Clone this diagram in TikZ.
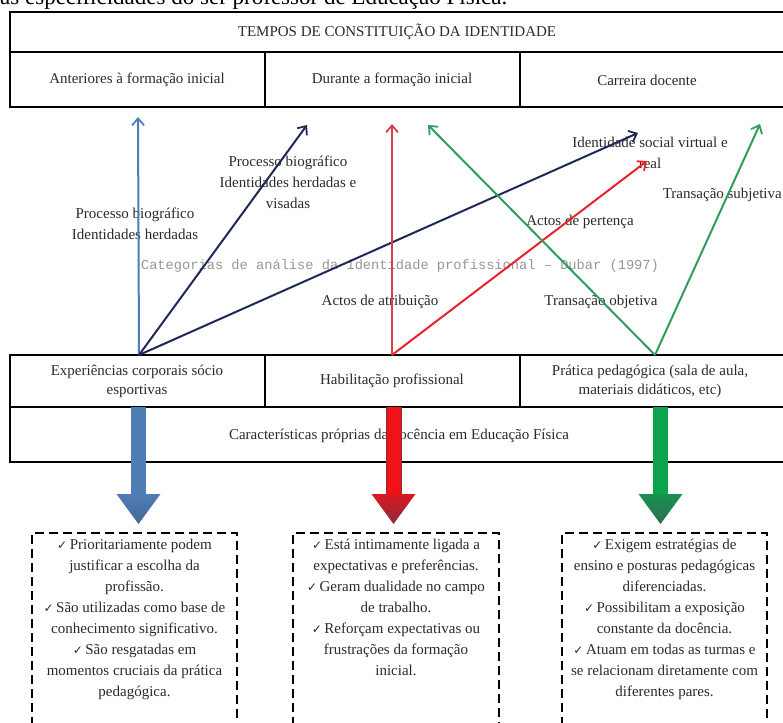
\documentclass[tikz,border=0pt]{standalone}
\usepackage{fontspec}
\setmainfont{Liberation Serif}
\newfontfamily\faintmono{Liberation Mono}
\newfontfamily\symfam{DejaVu Sans}
\usetikzlibrary{arrows.meta}

\definecolor{steel}{HTML}{4F7DB5}
\definecolor{steeldk}{HTML}{46689A}
\definecolor{navy}{HTML}{1E2957}
\definecolor{rosered}{HTML}{D44150}
\definecolor{brightred}{HTML}{E8232D}
\definecolor{bigred}{HTML}{F01218}
\definecolor{bigreddk}{HTML}{8A2E3C}
\definecolor{grn}{HTML}{2E9E5B}
\definecolor{biggrn}{HTML}{0AA34E}
\definecolor{biggrndk}{HTML}{2F6E52}
\definecolor{txt}{HTML}{2A2A2A}
\definecolor{faint}{HTML}{969696}

\newcommand{\ck}{{\symfam\fontsize{12}{12}\selectfont ✓}\,}

\begin{document}
\begin{tikzpicture}[x=1pt,y=-1pt,
  lbl/.style={font=\fontsize{15}{21}\selectfont, text=txt, align=center, inner sep=0pt},
  celltext/.style={font=\fontsize{15}{19}\selectfont, text=txt, align=center, inner sep=0pt},
  gridline/.style={line width=2pt, black},
  thinarrow/.style={line width=2pt, -{Straight Barb[length=7pt,width=12pt,line width=1.8pt]}},
  dbox/.style={draw=black, line width=2.6pt, dash pattern=on 9pt off 5pt},
  boxtext/.style={font=\fontsize{15}{21}\selectfont, text=txt, align=center, inner sep=0pt, anchor=north},
]
\useasboundingbox (0,0) rectangle (783,722);

% clipped caption line at the very top
\node[anchor=base west, font=\fontsize{23}{23}\selectfont, inner sep=0pt, text=black] (caption) at (0,5) {as especificidades do ser professor de Educação Física.};

% ---------- top table ----------
\draw[gridline] (790,12) -- (10,12) -- (10,107) -- (790,107);
\draw[gridline] (10,52) -- (790,52);
\draw[gridline] (265,52) -- (265,107);
\draw[gridline] (520,52) -- (520,107);
\node[celltext] (tempos) at (397,32) {TEMPOS DE CONSTITUIÇÃO DA IDENTIDADE};
\node[celltext] (ant) at (137,80) {Anteriores à formação inicial};
\node[celltext] (dur) at (392,80) {Durante a formação inicial};
\node[celltext] (car) at (647,80) {Carreira docente};

% ---------- bottom table ----------
\draw[gridline] (790,355) -- (10,355) -- (10,462) -- (790,462);
\draw[gridline] (10,407) -- (790,407);
\draw[gridline] (265,355) -- (265,407);
\draw[gridline] (520,355) -- (520,407);
\node[celltext] (exp) at (137,381) {Experiências  corporais sócio\\esportivas};
\node[celltext] (hab) at (392,381) {Habilitação profissional};
\node[celltext] (pra) at (650,381) {Prática pedagógica (sala de aula,\\materiais didáticos, etc)};
\node[celltext] (carac) at (399,436) {Características próprias  da docência em Educação Física};

% ---------- labels (under the arrows) ----------
\node[font=\faintmono\fontsize{13.7}{14}\selectfont, text=faint, inner sep=0pt] (cat) at (400,266) {Categorias de análise da identidade profissional – Dubar (1997)};
\node[lbl] (l1) at (135,224) {Processo biográfico\\Identidades herdadas};
\node[lbl] (l2) at (288,182) {Processo biográfico\\Identidades herdadas e\\visadas};
\node[lbl] (l3) at (650,153) {Identidade social virtual e\\real};
\node[lbl, anchor=east] (l4) at (782,195) {Transação subjetiva};
\node[lbl] (l5) at (580,222) {Actos de pertença};
\node[lbl] (l6) at (380,302) {Actos de atribuição};
\node[lbl] (l7) at (601,302) {Transação objetiva};

% ---------- thin arrows ----------
\coordinate (oB) at (139,355);
\coordinate (oR) at (392,355);
\coordinate (oG) at (655,355);
\coordinate (tA) at (138,117);
\coordinate (tB) at (307,125);
\coordinate (tC) at (638,133);
\coordinate (tD) at (392,124);
\coordinate (tE) at (647,161);
\coordinate (tF) at (428,125);
\coordinate (tG) at (760,124);
\draw[thinarrow, steel] (oB) -- (tA);
\draw[thinarrow, navy] (oB) -- (tB);
\draw[thinarrow, navy] (oB) -- (tC);
\draw[thinarrow, rosered] (oR) -- (tD);
\draw[thinarrow, brightred] (oR) -- (tE);
\draw[thinarrow, grn] (oG) -- (tF);
\draw[thinarrow, grn] (oG) -- (tG);

% ---------- big block arrows ----------
% blue
\fill[steel] (131,407) rectangle (146,495);
\shade[top color=steel, bottom color=steeldk] (116.5,494) -- (160.5,494) -- (138.5,524) -- cycle;
% red
\fill[bigred] (386,407) rectangle (401,495);
\draw[bigreddk, line width=0.8pt] (386,407) -- (386,495) (401,407) -- (401,495);
\shade[top color=bigred!80!bigreddk, bottom color=bigreddk] (371.5,494) -- (415.5,494) -- (393.5,524) -- cycle;
% green
\fill[biggrn] (653,407) rectangle (668,495);
\shade[top color=biggrn!70!biggrndk, bottom color=biggrndk] (638.5,494) -- (682.5,494) -- (660.5,524) -- cycle;

% ---------- dashed boxes ----------
\draw[dbox] (32,740) -- (32,533) -- (237,533) -- (237,740);
\draw[dbox] (293,740) -- (293,533) -- (499,533) -- (499,740);
\draw[dbox] (562,740) -- (562,533) -- (767,533) -- (767,740);

\node[boxtext] (b1) at (134.5,539) {\ck Prioritariamente podem\\justificar a escolha da\\profissão.\\\ck São utilizadas como base de\\conhecimento significativo.\\\ck São resgatadas em\\momentos cruciais da prática\\pedagógica.};
\node[boxtext] (b2) at (396,539) {\ck Está intimamente  ligada a\\expectativas e preferências.\\\ck Geram  dualidade no campo\\de trabalho.\\\ck Reforçam expectativas ou\\frustrações da formação\\inicial.};
\node[boxtext] (b3) at (664.5,539) {\ck Exigem estratégias  de\\ensino e posturas pedagógicas\\diferenciadas.\\\ck Possibilitam  a exposição\\constante da docência.\\\ck Atuam em todas as turmas e\\se relacionam  diretamente com\\diferentes pares.};
\end{tikzpicture}
\end{document}
